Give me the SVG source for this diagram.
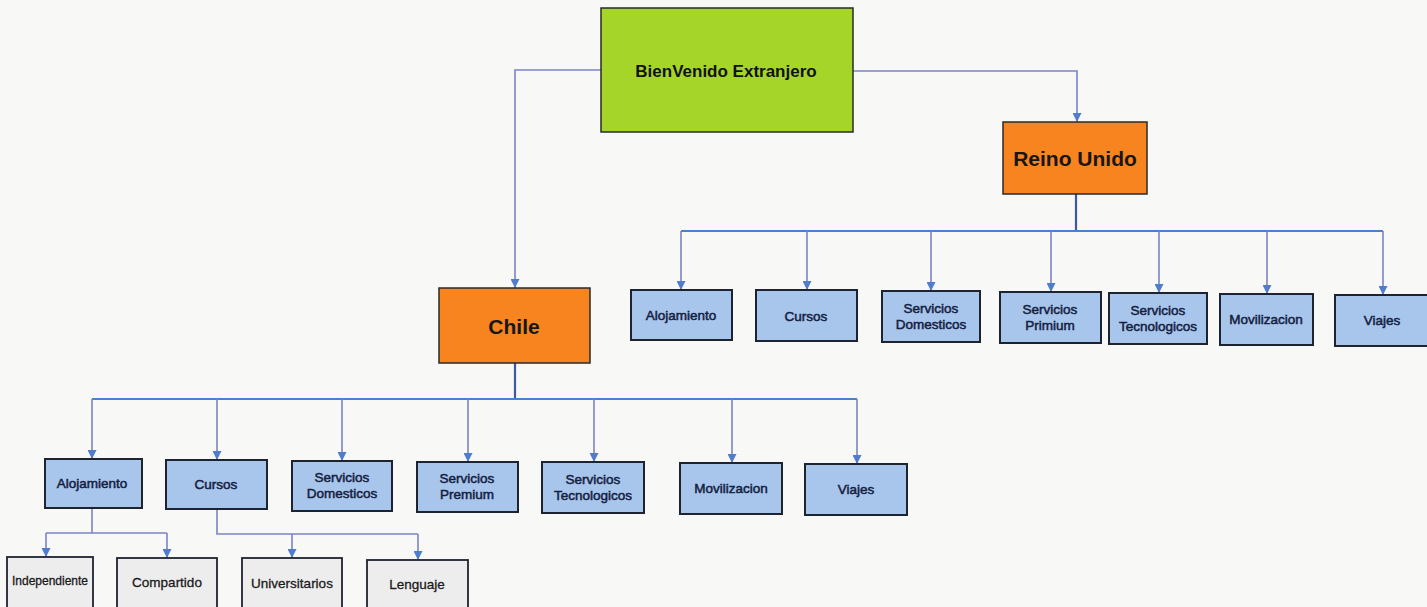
<svg xmlns="http://www.w3.org/2000/svg" width="1427" height="607" viewBox="0 0 1427 607">
<defs>
<marker id="arr" viewBox="0 0 10 10" refX="10" refY="5" markerWidth="10" markerHeight="9" markerUnits="userSpaceOnUse" orient="auto">
<path d="M0,0 L10,5 L0,10 Z" fill="#4f7ccb"/>
</marker>
</defs>
<style>
.bg{fill:#f8f8f6}
.root{fill:#a6d52a;stroke:#2a2a2a;stroke-width:1.5}
.country{fill:#f7841e;stroke:#2a2a2a;stroke-width:1.5}
.leaf{fill:#a8c6ec;stroke:#1e2330;stroke-width:2}
.sub{fill:#ededee;stroke:#1e2330;stroke-width:1.8}
.t{font-family:"Liberation Sans",Arial,sans-serif;text-anchor:middle;dominant-baseline:central}
.tr{font-size:17px;font-weight:bold;fill:#111}
.tc{font-size:21px;font-weight:bold;fill:#161616}
.tl{font-size:13.5px;fill:#14203f;stroke:#14203f;stroke-width:0.5}
.ts{font-size:13.5px;fill:#1a1a1a;stroke:#1a1a1a;stroke-width:0.3}
.c{fill:none;stroke:#7b83c3;stroke-width:1.6}
.ca{fill:none;stroke:#7b83c3;stroke-width:1.6;marker-end:url(#arr)}
.cm{fill:none;stroke:#4a7fd2;stroke-width:2}
.cd{fill:none;stroke:#3a5aa8;stroke-width:2.2}
</style>
<rect class="bg" x="0" y="0" width="1427" height="607"/>

<g id="connectors">
<polyline class="ca" points="601,70 515,70 515,288"/>
<polyline class="ca" points="853,71 1077,71 1077,122"/>
<line class="cd" x1="1076" y1="194" x2="1076" y2="231"/>
<line class="cm" x1="681" y1="231" x2="1383" y2="231"/>
<line class="ca" x1="681" y1="231" x2="681" y2="290"/>
<line class="ca" x1="807" y1="231" x2="807" y2="290"/>
<line class="ca" x1="931" y1="231" x2="931" y2="291"/>
<line class="ca" x1="1051" y1="231" x2="1051" y2="292"/>
<line class="ca" x1="1159" y1="231" x2="1159" y2="293"/>
<line class="ca" x1="1267" y1="231" x2="1267" y2="294"/>
<line class="ca" x1="1383" y1="231" x2="1383" y2="295"/>
<line class="cd" x1="515" y1="363" x2="515" y2="399"/>
<line class="cm" x1="92" y1="399" x2="857" y2="399"/>
<line class="ca" x1="92" y1="399" x2="92" y2="459"/>
<line class="ca" x1="217" y1="399" x2="217" y2="460"/>
<line class="ca" x1="342" y1="399" x2="342" y2="461"/>
<line class="ca" x1="468" y1="399" x2="468" y2="462"/>
<line class="ca" x1="594" y1="399" x2="594" y2="462"/>
<line class="ca" x1="732" y1="399" x2="732" y2="463"/>
<line class="ca" x1="857" y1="399" x2="857" y2="464"/>
<line class="c" x1="92" y1="508" x2="92" y2="533"/>
<line class="c" x1="46" y1="533" x2="167" y2="533"/>
<line class="ca" x1="46" y1="533" x2="46" y2="557"/>
<line class="ca" x1="167" y1="533" x2="167" y2="558"/>
<polyline class="c" points="217,509 217,534 418,534"/>
<line class="ca" x1="292" y1="534" x2="292" y2="558"/>
<line class="ca" x1="418" y1="534" x2="418" y2="560"/>
</g>

<g id="root">
<rect class="root" x="601" y="8" width="252" height="124"/>
<text class="t tr" x="726" y="71">BienVenido Extranjero</text>
</g>

<g id="reino-unido">
<rect class="country" x="1003" y="122" width="144" height="72"/>
<text class="t tc" x="1075" y="158">Reino Unido</text>
</g>

<g id="chile">
<rect class="country" x="439" y="288" width="151" height="75"/>
<text class="t tc" x="514" y="326">Chile</text>
</g>

<g id="ru-alojamiento"><rect class="leaf" x="631" y="290" width="101" height="50"/><text class="t tl" x="681" y="315">Alojamiento</text></g>
<g id="ru-cursos"><rect class="leaf" x="756" y="290" width="101" height="51"/><text class="t tl" x="806" y="316">Cursos</text></g>
<g id="ru-servicios-domesticos"><rect class="leaf" x="882" y="291" width="98" height="51"/><text class="t tl" x="931" y="308">Servicios</text><text class="t tl" x="931" y="324">Domesticos</text></g>
<g id="ru-servicios-primium"><rect class="leaf" x="1000" y="292" width="101" height="51"/><text class="t tl" x="1050" y="309">Servicios</text><text class="t tl" x="1050" y="325">Primium</text></g>
<g id="ru-servicios-tecnologicos"><rect class="leaf" x="1109" y="293" width="98" height="51"/><text class="t tl" x="1158" y="310">Servicios</text><text class="t tl" x="1158" y="326">Tecnologicos</text></g>
<g id="ru-movilizacion"><rect class="leaf" x="1220" y="294" width="93" height="51"/><text class="t tl" x="1266" y="319">Movilizacion</text></g>
<g id="ru-viajes"><rect class="leaf" x="1335" y="295" width="100" height="51"/><text class="t tl" x="1382" y="320">Viajes</text></g>

<g id="cl-alojamiento"><rect class="leaf" x="45" y="459" width="97" height="49"/><text class="t tl" x="92" y="483">Alojamiento</text></g>
<g id="cl-cursos"><rect class="leaf" x="166" y="460" width="101" height="49"/><text class="t tl" x="216" y="484">Cursos</text></g>
<g id="cl-servicios-domesticos"><rect class="leaf" x="292" y="461" width="100" height="50"/><text class="t tl" x="342" y="477">Servicios</text><text class="t tl" x="342" y="493">Domesticos</text></g>
<g id="cl-servicios-premium"><rect class="leaf" x="417" y="462" width="101" height="50"/><text class="t tl" x="467" y="478">Servicios</text><text class="t tl" x="467" y="494">Premium</text></g>
<g id="cl-servicios-tecnologicos"><rect class="leaf" x="542" y="462" width="102" height="51"/><text class="t tl" x="593" y="479">Servicios</text><text class="t tl" x="593" y="495">Tecnologicos</text></g>
<g id="cl-movilizacion"><rect class="leaf" x="680" y="463" width="102" height="51"/><text class="t tl" x="731" y="488">Movilizacion</text></g>
<g id="cl-viajes"><rect class="leaf" x="805" y="464" width="102" height="51"/><text class="t tl" x="856" y="489">Viajes</text></g>

<g id="independiente"><rect class="sub" x="7" y="557" width="86" height="55"/><text class="t ts" x="50" y="581" style="font-size:12px">Independiente</text></g>
<g id="compartido"><rect class="sub" x="117" y="558" width="100" height="54"/><text class="t ts" x="167" y="582">Compartido</text></g>
<g id="universitarios"><rect class="sub" x="242" y="558" width="100" height="54"/><text class="t ts" x="292" y="583">Universitarios</text></g>
<g id="lenguaje"><rect class="sub" x="367" y="560" width="101" height="52"/><text class="t ts" x="417" y="584">Lenguaje</text></g>
</svg>
